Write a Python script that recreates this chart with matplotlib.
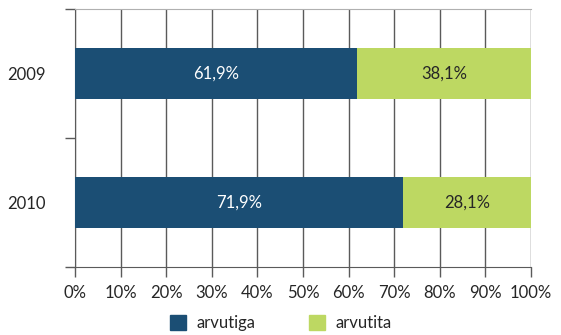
import numpy as np
import matplotlib.pyplot as plt
from matplotlib.patches import Patch

plt.rcParams['font.family'] = ['Lato', 'DejaVu Sans']
plt.rcParams['font.size'] = 12

years = ['2009', '2010']
arvutiga = [61.9, 71.9]
arvutita = [38.1, 28.1]
series_names = ['arvutiga', 'arvutita']

blue = '#1b4e74'
green = '#bdd862'
text_col = '#262626'
line_col = '#5a5a5a'

fig = plt.figure(figsize=(5.61, 3.35), dpi=100)
ax = fig.add_axes([0.1337, 0.203, 0.8128, 0.770])

y = np.arange(len(years))
ax.barh(y, arvutiga, height=0.4, color=blue, zorder=3)
ax.barh(y, arvutita, left=arvutiga, height=0.4, color=green, zorder=3)

# value labels centred in each segment
for yi, a, b in zip(y, arvutiga, arvutita):
    ax.text(a / 2, yi, f'{a:.1f}%'.replace('.', ','), ha='center', va='center',
            color='white', zorder=4)
    ax.text(a + b / 2, yi, f'{b:.1f}%'.replace('.', ','), ha='center', va='center',
            color=text_col, zorder=4)

ax.set_xlim(0, 100)
ax.set_ylim(len(years) - 0.5, -0.5)
ax.set_xticks(np.arange(0, 101, 10))
ax.set_xticklabels([f'{v}%' for v in range(0, 101, 10)])
ax.set_yticks(y)
ax.set_yticklabels(years)
ax.set_yticks(np.arange(-0.5, len(years), 1), minor=True)
ax.tick_params(axis='y', which='major', length=0, pad=21, colors=text_col)
ax.tick_params(axis='y', which='minor', length=7, width=1, color=line_col)
ax.tick_params(axis='x', length=7, width=1, color=line_col, labelcolor=text_col, pad=6)
ax.xaxis.grid(True, color=line_col, linewidth=1, zorder=0)

for side in ['left', 'bottom']:
    ax.spines[side].set_color(line_col)
ax.spines['top'].set_color('#b0b0b0')
ax.spines['right'].set_visible(False)

handles = [Patch(color=blue), Patch(color=green)]
fig.legend(handles, series_names, loc='center', bbox_to_anchor=(0.5, 0.035),
           ncol=2, frameon=False, handlelength=1.0, handleheight=1.0,
           columnspacing=3.2, handletextpad=0.6, labelcolor=text_col)

fig.savefig('out.png', dpi=100)
